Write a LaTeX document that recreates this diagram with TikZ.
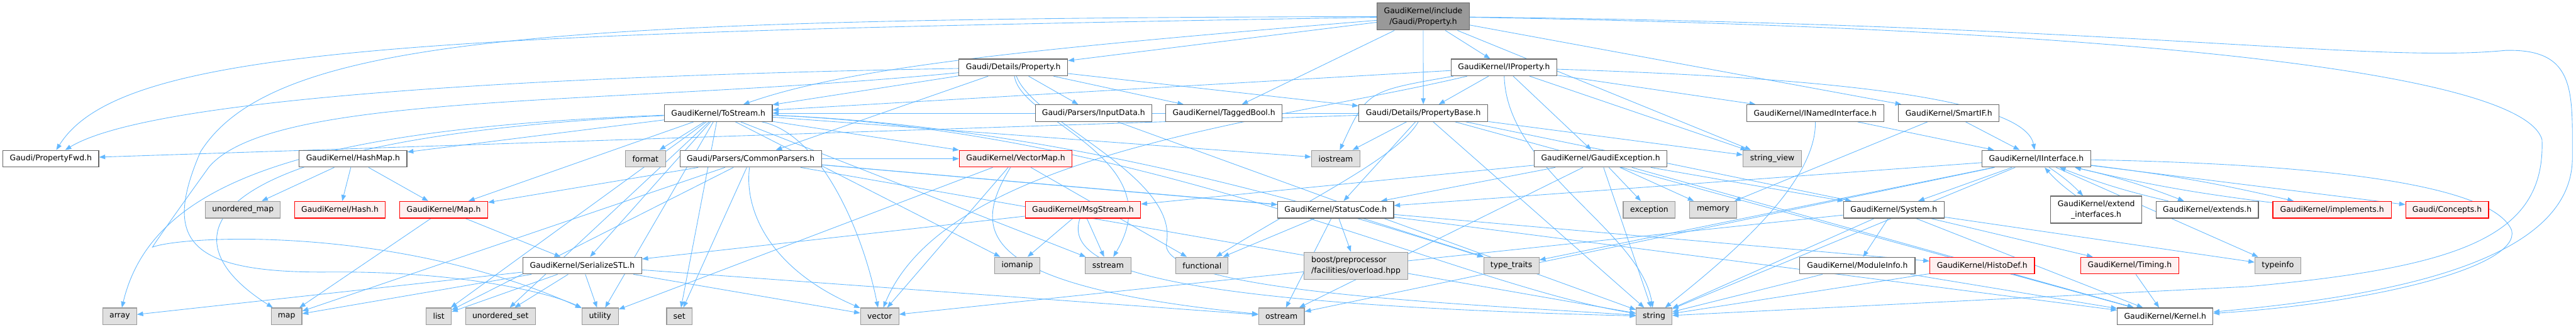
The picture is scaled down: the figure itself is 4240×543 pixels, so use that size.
\documentclass[tikz,border=0pt]{standalone}
\usepackage{fontspec}
\setmainfont{DejaVu Sans}
\usetikzlibrary{arrows.meta,backgrounds}
\definecolor{edgec}{HTML}{63B8FF}
\definecolor{nodeborder}{HTML}{666666}
\definecolor{extborder}{HTML}{999999}
\definecolor{extfill}{HTML}{E0E0E0}
\definecolor{redfill}{HTML}{FFF0F0}
\definecolor{redborder}{HTML}{FF0000}
\definecolor{rootfill}{HTML}{999999}
\begin{document}
\begin{tikzpicture}[x=1pt,y=1pt,
  base/.style={draw, line width=1.2pt, inner sep=0pt, minimum height=27.6pt,
    font=\fontsize{12.86}{17.9}\selectfont, text=black},
  nd/.style={base, draw=nodeborder, fill=white},
  ext/.style={base, draw=extborder, fill=extfill},
  trunc/.style={base, draw=redborder, fill=redfill},
  rootn/.style={base, draw=nodeborder, fill=rootfill, minimum height=44.8pt, align=center},
  e/.style={draw=edgec, line width=0.9pt, -{Triangle[length=10pt,width=7.5pt]}}
]
\useasboundingbox (0,0) rectangle (4240,-543);
% ---------- nodes ----------
\node[rootn, minimum width=151.5pt] (R) at (2342.5,-27.2) {GaudiKernel/include\\/Gaudi/Property.h};
% row 1
\node[nd, minimum width=179.2pt] (DetProp) at (1667.8,-111.1) {Gaudi/Details/Property.h};
\node[nd, minimum width=173.2pt] (IProp) at (2475.5,-111.1) {GaudiKernel/IProperty.h};
% row 2
\node[nd, minimum width=177.4pt] (ToStream) at (1182.4,-186.3) {GaudiKernel/ToStream.h};
\node[nd, minimum width=191.1pt] (InputData) at (1799.9,-186.3) {Gaudi/Parsers/InputData.h};
\node[nd, minimum width=191.1pt] (TaggedBool) at (2014.5,-186.3) {GaudiKernel/TaggedBool.h};
\node[nd, minimum width=212.5pt] (PropBase) at (2342.7,-186.3) {Gaudi/Details/PropertyBase.h};
\node[nd, minimum width=225.5pt] (INamed) at (2987.7,-186.3) {GaudiKernel/INamedInterface.h};
\node[nd, minimum width=165.6pt] (SmartIF) at (3207.7,-186.3) {GaudiKernel/SmartIF.h};
% row 3
\node[nd, minimum width=157.7pt] (PropFwd) at (83.7,-261.4) {Gaudi/PropertyFwd.h};
\node[nd, minimum width=177.4pt] (HashMap) at (581.1,-261.4) {GaudiKernel/HashMap.h};
\node[ext, minimum width=66.2pt] (format) at (1062.4,-261.4) {format};
\node[nd, minimum width=232.8pt] (CommonP) at (1235.6,-261.4) {Gaudi/Parsers/CommonParsers.h};
\node[trunc, minimum width=185.6pt] (VectorMap) at (1671.8,-261.4) {GaudiKernel/VectorMap.h};
\node[ext, minimum width=79.9pt] (iostream) at (2198.6,-261.4) {iostream};
\node[nd, minimum width=218.4pt] (GExc) at (2634.5,-261.4) {GaudiKernel/GaudiException.h};
\node[ext, minimum width=96.4pt] (strview) at (2917.2,-261.4) {string\_view};
\node[nd, minimum width=178.7pt] (IIntf) at (3351.7,-261.4) {GaudiKernel/IInterface.h};
% row 4
\node[ext, minimum width=123.2pt] (umap) at (399.8,-345.4) {unordered\_map};
\node[trunc, minimum width=149.5pt] (Hash) at (559.6,-345.4) {GaudiKernel/Hash.h};
\node[trunc, minimum width=144.6pt] (MapH) at (730.4,-345.4) {GaudiKernel/Map.h};
\node[trunc, minimum width=190pt] (MsgS) at (1782.5,-345.4) {GaudiKernel/MsgStream.h};
\node[nd, minimum width=190.8pt] (StatusC) at (2198.5,-345.4) {GaudiKernel/StatusCode.h};
\node[ext, minimum width=85.7pt] (exception) at (2714.6,-345.4) {exception};
\node[ext, minimum width=77.1pt] (memory) at (2819.8,-345.4) {memory};
\node[nd, minimum width=165.7pt] (System) at (3117.2,-345.4) {GaudiKernel/System.h};
\node[nd, minimum width=150.2pt, minimum height=44.4pt, align=center] (extendI) at (3450.3,-345.2) {GaudiKernel/extend\\\_interfaces.h};
\node[nd, minimum width=168.4pt] (extends) at (3633,-345.4) {GaudiKernel/extends.h};
\node[trunc, minimum width=194.9pt] (impl) at (3838.5,-345.4) {GaudiKernel/implements.h};
\node[trunc, minimum width=136.4pt] (Concepts) at (4027.8,-345.4) {Gaudi/Concepts.h};
% row 5
\node[nd, minimum width=195.6pt] (SerSTL) at (958.4,-437.4) {GaudiKernel/SerializeSTL.h};
\node[ext, minimum width=74.4pt] (iomanip) at (1674.4,-437.4) {iomanip};
\node[ext, minimum width=75pt] (sstream) at (1823.8,-437.4) {sstream};
\node[ext, minimum width=86.1pt] (functional) at (1978.5,-437.4) {functional};
\node[ext, minimum width=170.5pt, minimum height=44.4pt, align=left] (boost) at (2231.8,-437.5) {boost/preprocessor\\/facilities/overload.hpp};
\node[ext, minimum width=91.2pt] (typetraits) at (2487.6,-437.4) {type\_traits};
\node[nd, minimum width=189.7pt] (ModInfo) at (3057.2,-437.4) {GaudiKernel/ModuleInfo.h};
\node[trunc, minimum width=172.5pt] (HistoDef) at (3262.5,-437.4) {GaudiKernel/HistoDef.h};
\node[trunc, minimum width=161.8pt] (Timing) at (3505.4,-437.4) {GaudiKernel/Timing.h};
\node[ext, minimum width=75.7pt] (typeinfo) at (3749.3,-437.4) {typeinfo};
% row 6
\node[ext, minimum width=55.5pt] (array) at (197.2,-521) {array};
\node[ext, minimum width=50.6pt] (map) at (471.6,-521) {map};
\node[ext, minimum width=41.3pt] (list) at (722.2,-521) {list};
\node[ext, minimum width=115pt] (uset) at (823.7,-521) {unordered\_set};
\node[ext, minimum width=59.9pt] (utility) at (987.7,-521) {utility};
\node[ext, minimum width=42pt] (set) at (1118.2,-521) {set};
\node[ext, minimum width=63pt] (vector) at (1447.9,-521) {vector};
\node[ext, minimum width=75.5pt] (ostream) at (2109.2,-521) {ostream};
\node[ext, minimum width=58.9pt] (string) at (2722.5,-521) {string};
\node[nd, minimum width=157.4pt] (Kernel) at (3563.8,-521) {GaudiKernel/Kernel.h};
% ---------- edges (behind the nodes) ----------
\begin{scope}[on background layer]
% root
\draw[e] (R) -- (DetProp);
\draw[e] (R) -- (PropBase);
\draw[e] (R) -- (IProp);
\draw[e] (R) -- (TaggedBool);
\draw[e] (R) .. controls (700,-55) and (200,-75) .. (PropFwd);
\draw[e] (R) .. controls (1700,-80) and (1400,-110) .. (ToStream);
\draw[e] (R) .. controls (900,-30) and (450,-60) .. (330,-250) .. controls (270,-390) and (300,-450) .. (540,-448) .. controls (750,-446) and (900,-480) .. (utility);
\draw[e] (R) -- (SmartIF);
\draw[e] (R) -- (strview);
\draw[e] (R) .. controls (3500,-40) and (3900,-105) .. (4124,-83) .. controls (4240,-80) and (4234,-150) .. (4234,-260) .. controls (4234,-440) and (3900,-490) .. (Kernel);
\draw[e] (R) .. controls (3400,-45) and (4150,-110) .. (4184,-230) .. controls (4190,-390) and (4050,-440) .. (3700,-472) -- (string);
% Details/Property.h
\draw[e] (DetProp) -- (PropBase);
\draw[e] (DetProp) -- (InputData);
\draw[e] (DetProp) -- (TaggedBool);
\draw[e] (DetProp) .. controls (900,-125) and (250,-160) .. (PropFwd);
\draw[e] (DetProp) -- (ToStream);
\draw[e] (DetProp) -- (CommonP);
\draw[e] (DetProp) .. controls (1680,-200) and (1930,-260) .. (sstream);
\draw[e] (DetProp) .. controls (1000,-175) and (450,-150) .. (344,-275) .. controls (290,-350) and (255,-400) .. (251,-407) .. controls (300,-388) and (650,-370) .. (utility);
\draw[e] (DetProp) .. controls (1700,-200) and (1940,-290) .. (1920,-400) .. controls (1905,-480) and (2400,-500) .. (string);
% IProperty.h
\draw[e] (IProp) .. controls (2900,-125) and (3330,-150) .. (IIntf);
\draw[e] (IProp) -- (INamed);
\draw[e] (IProp) -- (PropBase);
\draw[e] (IProp) -- (GExc);
\draw[e] (IProp) .. controls (2250,-150) .. (iostream);
\draw[e] (IProp) -- (ToStream);
\draw[e] (IProp) .. controls (2480,-280) and (2700,-380) .. (string);
\draw[e] (IProp) -- (strview);
\draw[e] (IProp) .. controls (2100,-200) and (1560,-250) .. (vector);
% ToStream.h
\draw[e] (ToStream) -- (HashMap);
\draw[e] (ToStream) -- (MapH);
\draw[e] (ToStream) -- (SerSTL);
\draw[e] (ToStream) -- (format);
\draw[e] (ToStream) .. controls (500,-212) and (250,-300) .. (array);
\draw[e] (ToStream) .. controls (350,-225) and (250,-380) .. (map);
\draw[e] (ToStream) -- (list);
\draw[e] (ToStream) -- (uset);
\draw[e] (ToStream) -- (set);
\draw[e] (ToStream) .. controls (1350,-220) and (1420,-380) .. (vector);
\draw[e] (ToStream) -- (VectorMap);
\draw[e] (ToStream) -- (iomanip);
\draw[e] (ToStream) -- (sstream);
\draw[e] (ToStream) -- (iostream);
\draw[e] (ToStream) .. controls (1900,-215) and (2400,-470) .. (string);
\draw[e] (ToStream) .. controls (1800,-210) and (2300,-380) .. (typetraits);
\draw[e] (ToStream) -- (utility);
% InputData.h
\draw[e] (InputData) -- (string);
% PropertyBase.h
\draw[e] (PropBase) -- (PropFwd);
\draw[e] (PropBase) -- (ToStream);
\draw[e] (PropBase) -- (iostream);
\draw[e] (PropBase) -- (StatusC);
\draw[e] (PropBase) .. controls (2300,-260) and (2150,-330) .. (functional);
\draw[e] (PropBase) -- (string);
\draw[e] (PropBase) -- (strview);
\draw[e] (PropBase) -- (System);
\draw[e] (PropBase) -- (Kernel);
% INamedInterface.h
\draw[e] (INamed) -- (IIntf);
\draw[e] (INamed) .. controls (2990,-300) and (2850,-420) .. (string);
% SmartIF.h
\draw[e] (SmartIF) -- (IIntf);
\draw[e] (SmartIF) -- (memory);
% HashMap.h
\draw[e] (HashMap) -- (umap);
\draw[e] (HashMap) -- (Hash);
\draw[e] (HashMap) -- (MapH);
% CommonParsers.h
\draw[e] (CommonP) -- (MapH);
\draw[e] (CommonP) -- (VectorMap);
\draw[e] (CommonP) -- (StatusC);
\draw[e] (CommonP) -- (list);
\draw[e] (CommonP) -- (map);
\draw[e] (CommonP) -- (set);
\draw[e] (CommonP) .. controls (1225,-340) and (1260,-440) .. (vector);
\draw[e] (CommonP) -- (string);
\draw[e] (CommonP) -- (HistoDef);
% VectorMap.h
\draw[e] (VectorMap) -- (functional);
\draw[e] (VectorMap) .. controls (1600,-380) and (1600,-470) .. (ostream);
\draw[e] (VectorMap) -- (utility);
\draw[e] (VectorMap) -- (vector);
% GaudiException.h
\draw[e] (GExc) -- (exception);
\draw[e] (GExc) -- (memory);
\draw[e] (GExc) -- (StatusC);
\draw[e] (GExc) -- (System);
\draw[e] (GExc) -- (ostream);
\draw[e] (GExc) -- (string);
\draw[e] (GExc) -- (Kernel);
\draw[e] (GExc) -- (MsgS);
% IInterface.h
\draw[e] (IIntf) to[bend left=6] (extendI);
\draw[e] (IIntf) to[bend left=4] (extends);
\draw[e] (IIntf) to[bend left=3] (impl);
\draw[e] (IIntf) -- (Concepts);
\draw[e] (IIntf) .. controls (3800,-270) and (4100,-300) .. (4134,-379) .. controls (4150,-440) and (3900,-500) .. (Kernel);
\draw[e] (IIntf) -- (StatusC);
\draw[e] (IIntf) -- (System);
\draw[e] (IIntf) -- (typetraits);
\draw[e] (IIntf) -- (typeinfo);
\draw[e] (IIntf) -- (ostream);
\draw[e] (IIntf) -- (string);
\draw[e] (extendI) to[bend left=6] (IIntf);
\draw[e] (extends) to[bend left=4] (IIntf);
\draw[e] (impl) to[bend left=3] (IIntf);
% Map.h
\draw[e] (MapH) -- (map);
\draw[e] (MapH) -- (SerSTL);
% MsgStream.h
\draw[e] (MsgS) -- (SerSTL);
\draw[e] (MsgS) -- (iomanip);
\draw[e] (MsgS) -- (sstream);
\draw[e] (MsgS) .. controls (1750,-440) and (1900,-500) .. (string);
% StatusCode.h
\draw[e] (StatusC) -- (boost);
\draw[e] (StatusC) -- (typetraits);
\draw[e] (StatusC) -- (ostream);
\draw[e] (StatusC) -- (functional);
\draw[e] (StatusC) -- (Kernel);
% System.h
\draw[e] (System) -- (ModInfo);
\draw[e] (System) -- (Kernel);
\draw[e] (System) -- (string);
\draw[e] (System) -- (typeinfo);
\draw[e] (System) -- (Timing);
\draw[e] (System) -- (vector);
% SerializeSTL.h
\draw[e] (SerSTL) -- (array);
\draw[e] (SerSTL) -- (map);
\draw[e] (SerSTL) -- (list);
\draw[e] (SerSTL) -- (uset);
\draw[e] (SerSTL) -- (utility);
\draw[e] (SerSTL) -- (vector);
\draw[e] (SerSTL) -- (ostream);
% ModuleInfo.h, HistoDef.h, Timing.h
\draw[e] (ModInfo) -- (string);
\draw[e] (ModInfo) -- (Kernel);
\draw[e] (HistoDef) -- (string);
\draw[e] (HistoDef) -- (Kernel);
\draw[e] (Timing) -- (Kernel);
\end{scope}
\end{tikzpicture}
\end{document}
